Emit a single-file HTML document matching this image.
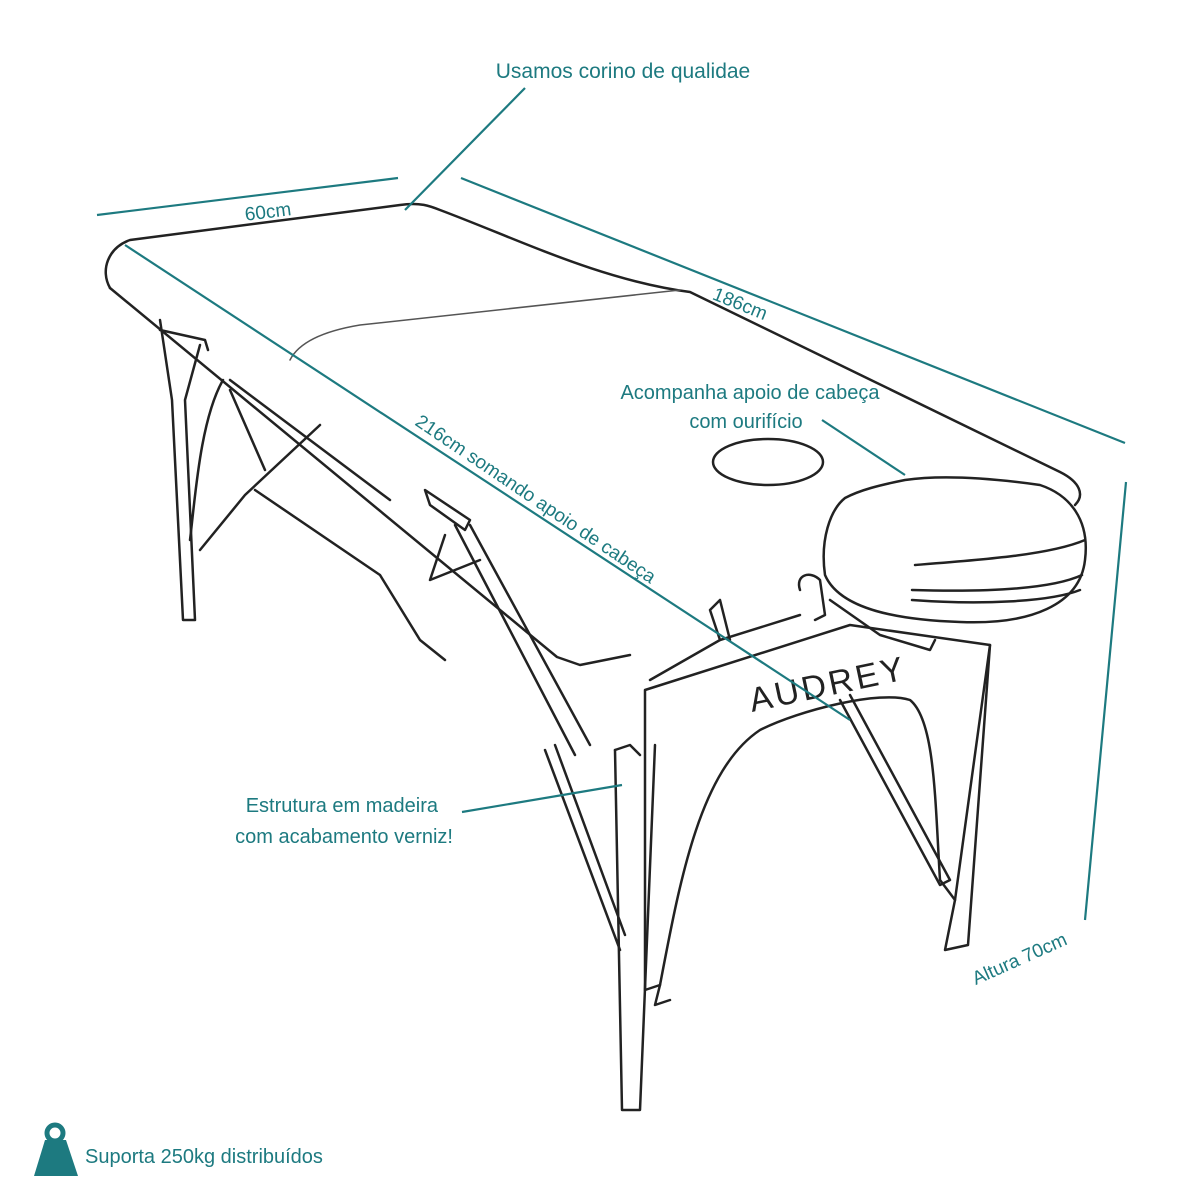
<!DOCTYPE html>
<html><head><meta charset="utf-8"><style>
html,body{margin:0;padding:0;background:#fff;}
svg{display:block}
text{font-family:"Liberation Sans",sans-serif;fill:#1d7a80;}
</style></head><body>
<svg width="1200" height="1200" viewBox="0 0 1200 1200" xmlns="http://www.w3.org/2000/svg">
<g fill="none" stroke="#222" stroke-width="2.5" stroke-linejoin="round" stroke-linecap="round">
<path d="M110,288 C100,270 108,248 130,240 L400,205 C420,202 430,206 440,210 C520,240 600,280 690,292 L1060,472 C1080,482 1085,495 1075,505"/>
<path d="M110,288 L557,657 L580,665 L630,655" />
<path d="M290,360 C300,340 330,330 360,325 L680,290" stroke-width="1.5" stroke="#555"/>
<path d="M160,320 L172,400 L183,620 L195,620 L185,400 L200,345"/>
<path d="M160,330 L205,340 L208,350"/>
<path d="M223,380 C200,420 195,500 190,540"/>
<path d="M230,390 L265,470"/>
<path d="M320,425 L245,495 L200,550"/>
<path d="M255,490 L380,575 L420,640 L445,660"/>
<path d="M230,380 L390,500"/>
<path d="M425,490 L470,520 L465,530 L430,505 Z"/>
<path d="M455,525 L575,755"/>
<path d="M470,525 L590,745"/>
<path d="M445,535 L430,580 L480,560"/>
<path d="M615,750 L622,1110 L640,1110 L655,745"/>
<path d="M615,750 L630,745 L640,755"/>
<path d="M545,750 L620,950"/>
<path d="M555,745 L625,935"/>
<!-- panel -->
<path d="M645,690 L645,990 L660,985 C680,880 700,770 760,730 C800,710 880,690 910,700 C935,720 935,800 940,880 L955,900 L990,645 L850,625 Z"/>
<path d="M650,680 L720,640 L800,615"/>
<path d="M720,640 L710,610 L720,600 L730,640"/>
<path d="M840,700 L940,885 L950,880 L850,695"/>
<path d="M990,645 L968,945 L945,950 L955,900"/>
<path d="M660,985 L655,1005 L670,1000"/>
<!-- headrest -->
<path d="M845,498 C830,510 820,540 825,575 C840,610 900,620 960,622 C1030,625 1080,605 1085,560 C1090,520 1070,495 1040,485 C990,478 940,475 905,480 C880,485 860,490 845,498 Z"/>
<path d="M915,565 C980,560 1050,555 1085,540"/>
<path d="M912,590 C980,592 1050,590 1082,575"/>
<path d="M912,600 C980,605 1050,602 1080,590"/>
<path d="M830,600 L880,635 L930,650 L935,640"/>
<path d="M800,590 C795,575 810,570 820,580 L825,615 L815,620"/>
<ellipse cx="768" cy="462" rx="55" ry="23"/>
</g>
<text x="752" y="712" font-size="34" style="fill:#222;letter-spacing:3px" transform="rotate(-12 752 712)">AUDREY</text>
<g stroke="#1d7a80" stroke-width="2.2" fill="none">
<line x1="525" y1="88" x2="405" y2="210"/>
<line x1="97" y1="215" x2="398" y2="178"/>
<line x1="461" y1="178" x2="1125" y2="443"/>
<line x1="125" y1="245" x2="850" y2="720"/>
<line x1="822" y1="420" x2="905" y2="475"/>
<line x1="1126" y1="482" x2="1085" y2="920"/>
<line x1="462" y1="812" x2="622" y2="785"/>
</g>
<text x="623" y="78" font-size="21" text-anchor="middle">Usamos corino de qualidae</text>
<text x="268" y="218" font-size="19" text-anchor="middle" transform="rotate(-7 268 212)">60cm</text>
<text x="740" y="310" font-size="19" text-anchor="middle" transform="rotate(22 740 304)">186cm</text>
<text x="535" y="505" font-size="19" text-anchor="middle" transform="rotate(34 535 500)">216cm somando apoio de cabeça</text>
<text x="750" y="399" font-size="20" text-anchor="middle">Acompanha apoio de cabeça</text>
<text x="746" y="428" font-size="20" text-anchor="middle">com ourifício</text>
<text x="438" y="812" font-size="20" text-anchor="end">Estrutura em madeira</text>
<text x="453" y="843" font-size="20" text-anchor="end">com acabamento verniz!</text>
<text x="1020" y="965" font-size="19" text-anchor="middle" transform="rotate(-24 1020 960)">Altura 70cm</text>
<g fill="#1d7a80">
<circle cx="55" cy="1133" r="8" fill="none" stroke="#1d7a80" stroke-width="5"/>
<path d="M45,1140 L66,1140 L78,1176 L34,1176 Z"/>
</g>
<text x="85" y="1163" font-size="20">Suporta 250kg distribuídos</text>
</svg>
</body></html>
